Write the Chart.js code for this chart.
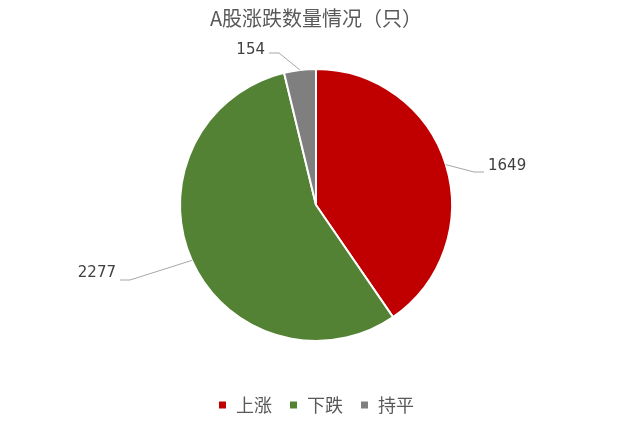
<!DOCTYPE html>
<html>
<head>
<meta charset="utf-8">
<script src="https://cdn.jsdelivr.net/npm/chart.js@4.4.1/dist/chart.umd.min.js"></script>
<style>
  html, body { margin: 0; padding: 0; background: #fff; }
  #wrap { width: 640px; height: 436px; }
</style>
</head>
<body>
<div id="wrap"><canvas id="pieChart"></canvas></div>
<script>
// chart data
var categories = ["上涨", "下跌", "持平"];
var counts = [1649, 2277, 154];
var sliceColors = ["#C00000", "#548235", "#7F7F7F"];

// where each outside label sits, relative to the pie centre
var labelSpots = [
    { dx: 172, dy: -39, side: "left", lineDy: 6 },
    { dx: -200, dy: 68, side: "right", lineDy: 7 },
    { dx: -51, dy: -155, side: "right", lineDy: 3 }
];

// draws the value labels outside the pie with leader lines
var outsideLabels = {
    id: "outsideLabels",
    afterDatasetsDraw: function (chart) {
        var ctx = chart.ctx;
        var arcs = chart.getDatasetMeta(0).data;
        ctx.save();
        ctx.font = "15px 'DejaVu Sans', sans-serif";
        ctx.textBaseline = "middle";
        arcs.forEach(function (arc, i) {
            var spot = labelSpots[i];
            var mid = (arc.startAngle + arc.endAngle) / 2;
            var px = arc.x + Math.cos(mid) * arc.outerRadius;
            var py = arc.y + Math.sin(mid) * arc.outerRadius;
            var tx = arc.x + spot.dx;
            var ty = arc.y + spot.dy;
            var sign = spot.side === "left" ? -1 : 1;
            var ly = ty + spot.lineDy;

            ctx.strokeStyle = "#A6A6A6";
            ctx.lineWidth = 1;
            ctx.beginPath();
            ctx.moveTo(px, py);
            ctx.lineTo(tx + sign * 14, ly);
            ctx.lineTo(tx + sign * 4, ly);
            ctx.stroke();

            ctx.fillStyle = "#404040";
            ctx.textAlign = spot.side;
            ctx.fillText(String(counts[i]), tx, ty);
        });
        ctx.restore();
    }
};

var ctx = document.getElementById("pieChart").getContext("2d");
var pieChart = new Chart(ctx, {
    type: "pie",
    data: {
        labels: categories,
        datasets: [{
            data: counts,
            backgroundColor: sliceColors,
            borderColor: "#ffffff",
            borderWidth: 2
        }]
    },
    options: {
        responsive: true,
        maintainAspectRatio: false,
        animation: false,
        layout: { padding: { right: 8, bottom: 12 } },
        plugins: {
            title: {
                display: true,
                text: "A股涨跌数量情况（只）",
                color: "#595959",
                font: { family: "'Noto Sans CJK SC', sans-serif", size: 20, weight: "normal" },
                padding: { top: 6, bottom: 38 }
            },
            legend: {
                position: "bottom",
                title: {
                    display: true,
                    text: " ",
                    font: { size: 10, lineHeight: 1 },
                    padding: { top: 0, bottom: 27 }
                },
                labels: {
                    boxWidth: 9,
                    boxHeight: 9,
                    padding: 17,
                    color: "#595959",
                    font: { family: "'Noto Sans CJK SC', sans-serif", size: 18 }
                }
            },
            tooltip: { enabled: false }
        }
    },
    plugins: [outsideLabels]
});
</script>
</body>
</html>
